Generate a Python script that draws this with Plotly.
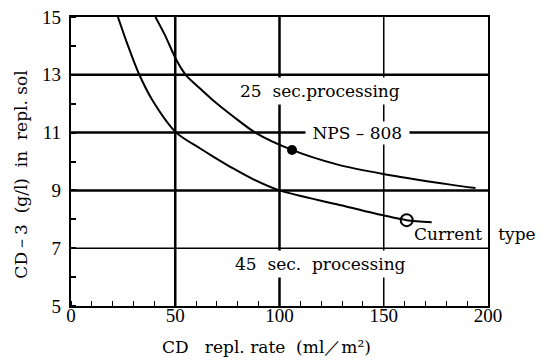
import plotly.graph_objects as go

# Data
nps_x = [40.5, 45, 50.5, 55, 61.5, 67.8, 78, 88.4, 106, 127.5, 149.7, 182, 194]
nps_y = [15.0, 14.38, 13.52, 13.0, 12.55, 12.14, 11.55, 11.0, 10.4, 9.9, 9.57, 9.2, 9.08]
cur_x = [22.5, 26.9, 32.3, 38.9, 50.5, 62, 68, 78, 87, 100, 127.5, 149.7, 161, 173]
cur_y = [15.0, 14.09, 13.08, 12.14, 11.0, 10.45, 10.18, 9.75, 9.4, 9.0, 8.52, 8.14, 7.97, 7.9]
nps_point = (106, 10.4)
cur_point = (161, 7.97)

x_ticks = [0, 50, 100, 150, 200]
y_ticks = [5, 7, 9, 11, 13, 15]
v_grid = [50, 100, 150]
v_grid_w = [2.5, 2.5, 1.5]
h_grid = [13, 11, 9, 7]
h_grid_w = [2.5, 2.5, 2.5, 1.5]

TICKFONT = "Liberation Serif"
FONT = "DejaVu Serif"

fig = go.Figure()
fig.add_trace(go.Scatter(x=nps_x, y=nps_y, mode="lines",
                         line=dict(color="black", width=2, shape="spline", smoothing=0.8)))
fig.add_trace(go.Scatter(x=cur_x, y=cur_y, mode="lines",
                         line=dict(color="black", width=2, shape="spline", smoothing=0.8)))
fig.add_trace(go.Scatter(x=[nps_point[0]], y=[nps_point[1]], mode="markers",
                         marker=dict(color="black", size=10)))
fig.add_trace(go.Scatter(x=[cur_point[0]], y=[cur_point[1]], mode="markers",
                         marker=dict(color="rgba(0,0,0,0)", size=12, line=dict(color="black", width=2))))

shapes = []
for v, w in zip(v_grid, v_grid_w):
    shapes.append(dict(type="line", xref="x", yref="y", x0=v, x1=v, y0=y_ticks[0], y1=y_ticks[-1],
                       line=dict(color="black", width=w), layer="below"))
for h, w in zip(h_grid, h_grid_w):
    shapes.append(dict(type="line", xref="x", yref="y", x0=x_ticks[0], x1=x_ticks[-1], y0=h, y1=h,
                       line=dict(color="black", width=w), layer="below"))

ann_font = dict(family=FONT, size=17, color="black")
annotations = [
    dict(x=119.5, y=12.45, xref="x", yref="y", text="25&nbsp;&nbsp;sec.processing", showarrow=False,
         font=ann_font, bgcolor="white", borderpad=3),
    dict(x=137.5, y=11.0, xref="x", yref="y", text="&nbsp;NPS – 808&nbsp;", showarrow=False,
         font=ann_font, bgcolor="white", borderpad=1),
    dict(x=119.5, y=6.45, xref="x", yref="y", text="45&nbsp;&nbsp;sec.&nbsp;&nbsp;processing", showarrow=False,
         font=ann_font, bgcolor="white", borderpad=3),
    dict(x=163.5, y=7.5, xref="x", yref="y", text="Current&nbsp;&nbsp;&nbsp;type", showarrow=False,
         xanchor="left", font=ann_font),
    dict(x=0.468, y=-0.142, xref="paper", yref="paper",
         text="CD&nbsp;&nbsp;&nbsp;repl. rate&nbsp;&nbsp;(ml／m²)",
         showarrow=False, font=ann_font, xanchor="center", yanchor="middle"),
    dict(x=-0.1186, y=0.453, xref="paper", yref="paper",
         text="CD－3&nbsp;&nbsp;(g/l)&nbsp;&nbsp;in&nbsp;&nbsp;repl. sol",
         showarrow=False, font=ann_font, textangle=-90, xanchor="center", yanchor="middle"),
]

# page body has an 8px margin, so the figure is sized to fit the 544x361 window
fig.update_layout(
    width=536, height=353,
    margin=dict(l=62.5, r=56, t=9, b=55, autoexpand=False),
    paper_bgcolor="white", plot_bgcolor="white",
    showlegend=False,
    shapes=shapes, annotations=annotations,
    font=dict(family=FONT, size=17, color="black"),
)
fig.update_xaxes(range=[0, 200], tickvals=x_ticks, showgrid=False, zeroline=False, automargin=False,
                 ticks="", showline=True, mirror=True, linewidth=2.2, linecolor="black",
                 tickfont=dict(family=TICKFONT, size=19),
                 ticklabelstandoff=-9, ticklabeloverflow="allow",
                 minor=dict(dtick=10, ticks="inside", ticklen=5, tickcolor="black", tickwidth=1.2, showgrid=False))
fig.update_yaxes(range=[5, 15], tickvals=y_ticks, showgrid=False, zeroline=False, automargin=False,
                 ticks="", showline=True, mirror=True, linewidth=2.2, linecolor="black",
                 tickfont=dict(family=TICKFONT, size=19),
                 ticklabelstandoff=4, ticklabeloverflow="allow",
                 minor=dict(dtick=1, ticks="inside", ticklen=5, tickcolor="black", tickwidth=1.5, showgrid=False))

fig.write_html("out.html")
